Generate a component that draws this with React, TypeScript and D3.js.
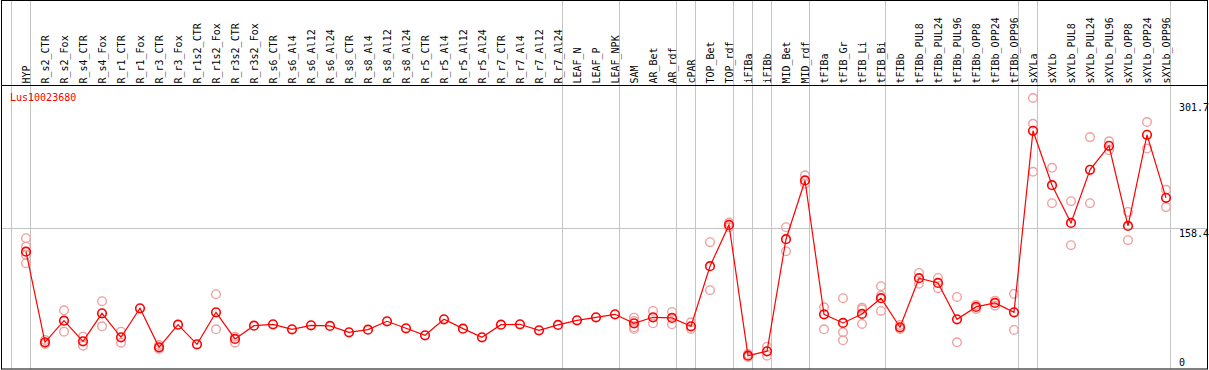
import React from "react";
import * as d3 from "d3";

const title = "Lus10023680";

const categories = [
  "HYP", "R_s2_CTR", "R_s2_Fox", "R_s4_CTR", "R_s4_Fox", "R_r1_CTR", "R_r1_Fox", "R_r3_CTR", "R_r3_Fox",
  "R_r1s2_CTR", "R_r1s2_Fox", "R_r3s2_CTR", "R_r3s2_Fox", "R_s6_CTR", "R_s6_Al4", "R_s6_Al12", "R_s6_Al24",
  "R_s8_CTR", "R_s8_Al4", "R_s8_Al12", "R_s8_Al24", "R_r5_CTR", "R_r5_Al4", "R_r5_Al12", "R_r5_Al24",
  "R_r7_CTR", "R_r7_Al4", "R_r7_Al12", "R_r7_Al24", "LEAF_N", "LEAF_P", "LEAF_NPK", "SAM", "AR_Bet", "AR_rdf",
  "cPAR", "TOP_Bet", "TOP_rdf", "iFIBa", "iFIBb", "MID_Bet", "MID_rdf", "tFIBa", "tFIB_Gr", "tFIB_Li", "tFIB_Bi",
  "tFIBb", "tFIBb_PUL8", "tFIBb_PUL24", "tFIBb_PUL96", "tFIBb_OPP8", "tFIBb_OPP24", "tFIBb_OPP96",
  "sXYLa", "sXYLb", "sXYLb_PUL8", "sXYLb_PUL24", "sXYLb_PUL96", "sXYLb_OPP8", "sXYLb_OPP24", "sXYLb_OPP96",
];

const means = [
  132.7, 33.0, 56.8, 34.1, 64.9, 38.5, 70.4, 27.5, 52.4,
  30.8, 66.0, 36.7, 51.3, 52.8, 47.3, 51.7, 51.0,
  44.0, 46.9, 56.1, 48.4, 40.7, 58.3, 48.0, 38.5,
  52.4, 52.8, 46.2, 52.1, 57.2, 60.5, 63.8, 53.9, 60.5, 59.8,
  50.6, 116.7, 162.1, 18.3, 23.1, 146.4, 211.0, 63.8, 54.3, 64.2, 81.5,
  49.5, 103.5, 98.3, 58.3, 71.9, 76.3, 66.0,
  265.6, 205.8, 164.3, 222.7, 249.1, 161.0, 261.2, 191.9,
];

const replicates: number[][] = [
  [147.5, 138.2, 129.1, 120.0], [35.6, 31.2], [68.2, 44.7], [39.2, 29.3], [78.2, 50.6], [44.7, 32.6], [], [30.0, 25.6], [],
  [], [85.9, 47.3], [39.2, 32.6], [], [], [], [], [],
  [], [], [], [], [], [], [], [],
  [], [], [], [], [], [], [], [60.1, 56.5, 49.5, 47.7], [67.5, 53.9], [66.4, 52.8],
  [55.0, 47.7], [143.1, 90.3], [164.7, 159.5], [20.1, 16.8], [28.2, 18.3], [159.6, 133.2], [216.6, 207.3], [71.5, 47.3], [81.5, 44.0, 35.2], [71.1, 69.3, 53.2], [94.7, 84.3, 67.5],
  [52.1, 47.7], [109.3, 97.5], [103.8, 92.5], [82.9, 33.0], [74.1, 69.7], [78.8, 73.3], [86.2, 46.6],
  [301.7, 273.3, 220.5], [224.9, 186.0], [188.2, 139.8], [258.7, 186.0], [254.0, 244.4], [176.4, 145.3], [275.3, 246.1], [200.7, 181.7],
];

const yTicks = [301.7, 158.4, 0];
const gridValues = [158.4];
const groupEnds = [
  "HYP", "R_r7_Al24", "LEAF_NPK", "AR_rdf", "cPAR", "TOP_rdf", "iFIBa", "iFIBb", "MID_rdf",
  "tFIB_Bi", "tFIBb_OPP96", "sXYLa", "sXYLb_OPP96",
];

const W = 1209;
const H = 370;
const FONT = "'DejaVu Sans Mono', monospace";

export default function App() {
  const x = d3.scalePoint<string>().domain(categories).range([26, 1166]).padding(0);
  const y = d3.scaleLinear().domain([0, 301.7]).range([372.3, 98]);
  const line = d3
    .line<number>()
    .x((_, i) => x(categories[i]) as number)
    .y((d) => y(d));

  const sepXs = [(x(categories[0]) as number) - 14.5, ...groupEnds.map((c) => (x(c) as number) + 4.5)];

  return (
    <svg width={W} height={H} style={{ position: "absolute", left: 0, top: 0, background: "#fff" }}>
      <rect x={0} y={0} width={W} height={H} fill="#fff" />
      {sepXs.map((sx, i) => (
        <line key={"s" + i} x1={sx} x2={sx} y1={0} y2={369} stroke="#c4c4c4" strokeWidth={1} />
      ))}
      {gridValues.map((v) => (
        <line key={"g" + v} x1={1.5} x2={1207.5} y1={Math.round(y(v)) + 0.5} y2={Math.round(y(v)) + 0.5} stroke="#c4c4c4" strokeWidth={1} />
      ))}
      <line x1={1.5} x2={1207.5} y1={85.5} y2={85.5} stroke="#000" strokeWidth={1} />
      <rect x={1.5} y={0.5} width={1206} height={368.5} fill="none" stroke="#000" strokeWidth={1} />
      {categories.map((c) => (
        <text
          key={"l" + c}
          transform={`translate(${(x(c) as number) + 3.7},83.5) rotate(-90)`}
          fontFamily={FONT}
          fontSize={10}
          fill="#000"
        >
          {c}
        </text>
      ))}
      <text x={10} y={101} fontFamily={FONT} fontSize={10} fill="#f00">
        {title}
      </text>
      {yTicks.map((v) => (
        <text key={"t" + v} x={1179} y={v === 0 ? 366 : y(v) + (v > 200 ? 12.5 : 8.3)} fontFamily={FONT} fontSize={10} fill="#000">
          {String(v)}
        </text>
      ))}
      {replicates.map((reps, i) =>
        reps.map((r, j) => (
          <circle key={`r${i}-${j}`} cx={x(categories[i]) as number} cy={y(r)} r={4.3} fill="none" stroke="#f0a0a0" strokeWidth={1.4} />
        ))
      )}
      <path d={line(means) || ""} fill="none" stroke="#f00" strokeWidth={1.2} />
      {means.map((m, i) => (
        <circle key={"m" + i} cx={x(categories[i]) as number} cy={y(m)} r={4.3} fill="none" stroke="#f00" strokeWidth={1.6} />
      ))}
    </svg>
  );
}
